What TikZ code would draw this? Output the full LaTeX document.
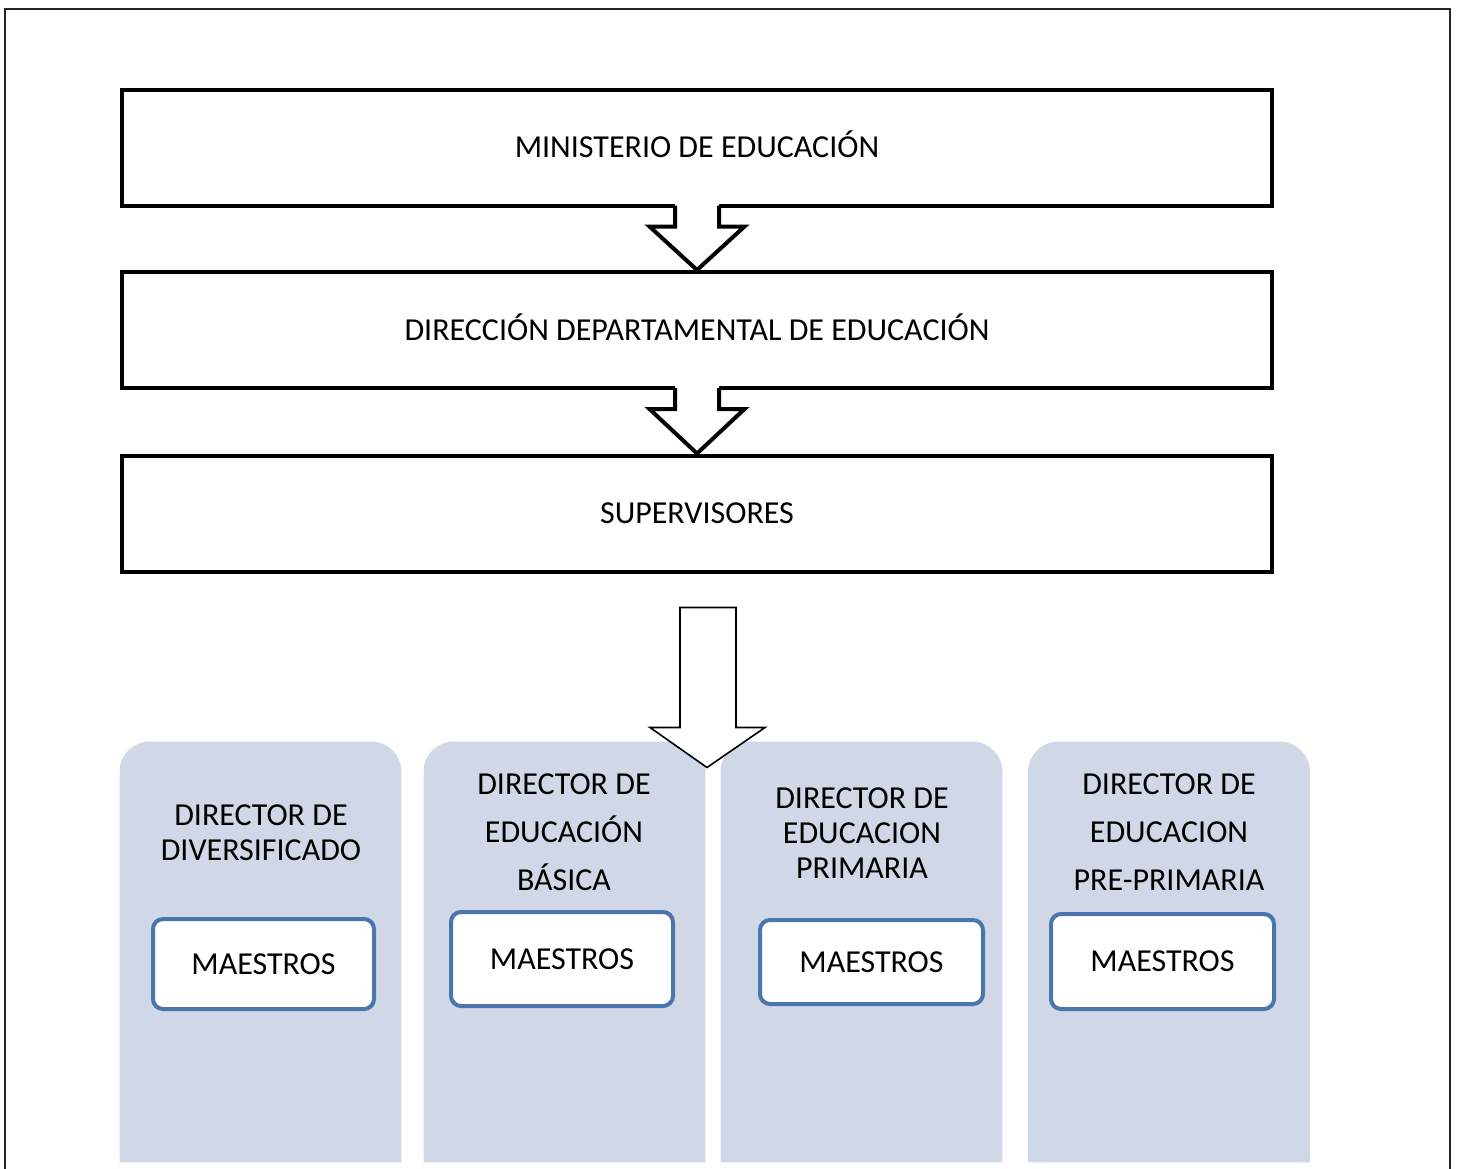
\documentclass[tikz,border=0pt]{standalone}
\usepackage{fontspec}
\setmainfont{Carlito}
\usetikzlibrary{calc}
\definecolor{panelc}{RGB}{208,216,231}
\definecolor{mblue}{RGB}{74,117,173}
\begin{document}
\begin{tikzpicture}[x=0.5pt,y=-0.5pt,
  every node/.style={font=\fontsize{16}{17.5}\selectfont, inner sep=0pt},
  topbox/.style={draw, line width=2pt, minimum width=575pt, minimum height=58pt, fill=white, text height=10.3pt, text depth=0pt},
  panelbox/.style={minimum width=140.5pt, minimum height=210pt},
  mbox/.style={draw=mblue, line width=2pt, rounded corners=5pt, fill=white, text height=10.3pt, text depth=0pt},
  notcharrow/.style={line width=2pt, miter limit=10},
  bigarrow/.style={draw=black, fill=white, line width=0.8pt},
  ptitle/.style={anchor=base}
]
\useasboundingbox (0,0) rectangle (1457,1168);
\draw[line width=1pt, black!85] (5,9) rectangle (1450,1185);

% top boxes
\node[topbox] (m) at (697,147.5) {MINISTERIO DE EDUCACIÓN};
\node[topbox] (d) at (697,330) {DIRECCIÓN DEPARTAMENTAL DE EDUCACIÓN};
\node[topbox] (s) at (697,513.5) {SUPERVISORES};

% notched arrows
\foreach \a/\b in {m/d, d/s}{
  \fill[white] ($(\a.south)+(-22,-8)$) -- ($(\a.south)+(-22,19)$) -- ($(\a.south)+(-47.5,19)$) -- (\b.north)
     -- ($(\a.south)+(47.5,19)$) -- ($(\a.south)+(22,19)$) -- ($(\a.south)+(22,-8)$) -- cycle;
  \draw[notcharrow] ($(\a.south)+(-22,-2)$) -- ($(\a.south)+(-22,19)$) -- ($(\a.south)+(-47.5,19)$) -- (\b.north)
     -- ($(\a.south)+(47.5,19)$) -- ($(\a.south)+(22,19)$) -- ($(\a.south)+(22,-2)$);
}

% panels
\node[panelbox] (p1) at (260.5,952) {};
\node[panelbox] (p2) at (564.5,952) {};
\node[panelbox] (p3) at (861.5,952) {};
\node[panelbox] (p4) at (1169,952) {};
\foreach \p in {p1,p2,p3,p4}{
  \fill[panelc] (\p.south west) [rounded corners=15pt] -- (\p.north west) -- (\p.north east) [sharp corners] -- (\p.south east) -- cycle;
}

% panel titles
\node[ptitle] (t1) at (261,825) {\fontsize{16}{17.5}\selectfont\begin{tabular}[t]{@{}c@{}}DIRECTOR DE\\DIVERSIFICADO\end{tabular}};
\node[ptitle] (t2) at (564,794) {\fontsize{16}{24}\selectfont\begin{tabular}[t]{@{}c@{}}DIRECTOR DE\\EDUCACIÓN\\BÁSICA\end{tabular}};
\node[ptitle] (t3) at (862,808) {\fontsize{16}{17.5}\selectfont\begin{tabular}[t]{@{}c@{}}DIRECTOR DE\\EDUCACION\\PRIMARIA\end{tabular}};
\node[ptitle] (t4) at (1169,794) {\fontsize{16}{24}\selectfont\begin{tabular}[t]{@{}c@{}}DIRECTOR DE\\EDUCACION\\PRE-PRIMARIA\end{tabular}};

% maestros boxes
\node[mbox, minimum width=110.5pt, minimum height=45pt] (m1) at (263.5,964) {MAESTROS};
\node[mbox, minimum width=111pt, minimum height=47pt] (m2) at (562,959) {MAESTROS};
\node[mbox, minimum width=111.5pt, minimum height=42pt] (m3) at (871.5,962) {MAESTROS};
\node[mbox, minimum width=111.5pt, minimum height=47.5pt] (m4) at (1162.5,961.5) {MAESTROS};

% big arrow
\coordinate (bt) at ($(s.south)+(11,34)$);
\coordinate (bp) at ($(bt)+(-1,160)$);
\path[bigarrow] ($(bt)+(-28,0)$) -- ($(bt)+(28,0)$) -- ($(bt)+(28,120)$) -- ($(bt)+(57,120)$) -- (bp)
   -- ($(bt)+(-58,120)$) -- ($(bt)+(-28,120)$) -- cycle;
\end{tikzpicture}
\end{document}
